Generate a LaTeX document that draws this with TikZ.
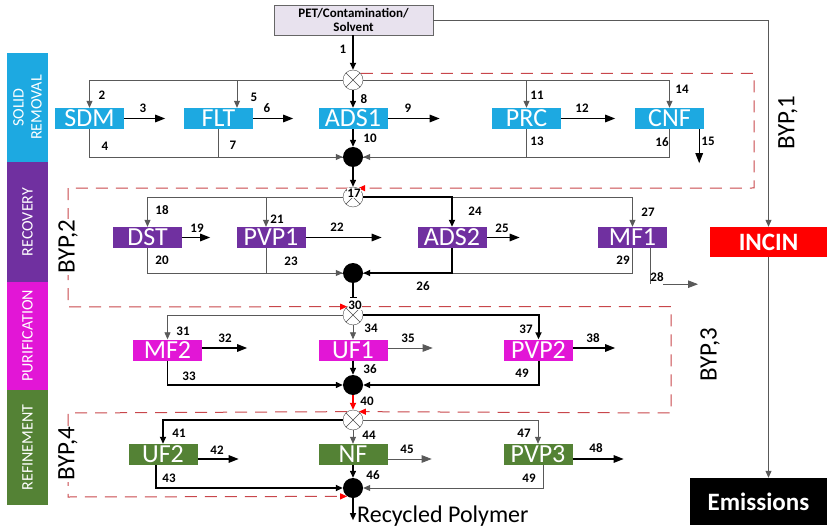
\documentclass[tikz,border=0pt]{standalone}
\usepackage{fontspec}
\setmainfont{Carlito}
\usetikzlibrary{arrows.meta}

\definecolor{solidc}{RGB}{29,169,225}
\definecolor{recc}{RGB}{112,48,160}
\definecolor{purc}{RGB}{226,22,214}
\definecolor{refc}{RGB}{84,130,53}
\definecolor{bypc}{RGB}{200,70,75}
\definecolor{feedc}{RGB}{232,226,238}

\newcommand{\fsz}[2]{\fontsize{#1}{#2}\selectfont}

\begin{document}
\begin{tikzpicture}[
      x=1pt, y=-1pt,
      lane/.style={rotate=90, minimum height=41pt, inner sep=0pt, text=white, align=center, font=\fsz{16}{18}},
      unit/.style={minimum width=69pt, minimum height=21pt, inner sep=0pt, text=white, font=\fsz{26}{26}},
      mixer/.style={circle, draw=black!70, fill=white, minimum size=20pt, inner sep=0pt,
         path picture={\draw[black!70] (path picture bounding box.north west) -- (path picture bounding box.south east)
                                       (path picture bounding box.north east) -- (path picture bounding box.south west);}},
      junction/.style={circle, fill=black, minimum size=20pt, inner sep=0pt},
      num/.style={font=\bfseries\fsz{13}{13}, inner sep=0pt},
      byplabel/.style={rotate=90, font=\fsz{25}{25}, inner sep=1pt},
      feed/.style={line width=0.8pt, draw=black!65},
      main/.style={line width=1.3pt, draw=black},
      heavy/.style={line width=2pt, draw=black},
      tip/.style={-{Triangle[length=7pt, width=6pt]}},
      bigtip/.style={-{Triangle[length=10pt, width=7.5pt]}},
      bypass/.style={line width=1pt, draw=bypc, dash pattern=on 12pt off 8pt,
                     -{Triangle[length=7pt, width=6pt, color=red]}}
   ]
   \useasboundingbox (0,0) rectangle (829,529);

   % Stage lanes
   \node[lane, fill=solidc, minimum width=109pt] (lsr) at (27.5,107.5) {SOLID\\REMOVAL};
   \node[lane, fill=recc, minimum width=120pt] (lrec) at (27.5,222) {RECOVERY};
   \node[lane, fill=purc, minimum width=108pt] (lpur) at (27.5,336) {PURIFICATION};
   \node[lane, fill=refc, minimum width=115pt] (lref) at (27.5,447.5) {REFINEMENT};

   % Feed, incineration and emissions
   \node[draw=black!60, fill=feedc, minimum width=159pt, minimum height=30pt, inner sep=0pt,
         align=center, font=\bfseries\fsz{13}{14}] (pet) at (353.5,20) {PET/Contamination/\\Solvent};
   \node[fill=red, text=white, minimum width=117pt, minimum height=30pt, inner sep=0pt,
         font=\bfseries\fsz{25}{25}] (incin) at (768.5,242) {INCIN};
   \node[fill=black, text=white, minimum width=137pt, minimum height=47pt, inner sep=0pt,
         font=\bfseries\fsz{25}{25}] (emis) at (758.5,501.5) {Emissions};

   % Mixers and junctions
   \node[mixer] (m1) at (353,80) {};
   \node[mixer] (m2) at (353,197) {};
   \node[mixer] (m3) at (353,315) {};
   \node[mixer] (m4) at (353,420) {};
   \node[junction] (j1) at (353,157) {};
   \node[junction] (j2) at (353,273) {};
   \node[junction] (j3) at (353,385) {};
   \node[junction] (j4) at (353,488) {};

   % Units
   \node[unit, fill=solidc] (sdm) at (89.5,118.5) {SDM};
   \node[unit, fill=solidc] (flt) at (218.5,118.5) {FLT};
   \node[unit, fill=solidc] (ads1) at (353,118.5) {ADS1};
   \node[unit, fill=solidc] (prc) at (526.5,118.5) {PRC};
   \node[unit, fill=solidc] (cnf) at (669.5,118.5) {CNF};
   \node[unit, fill=recc] (dst) at (147.5,237.5) {DST};
   \node[unit, fill=recc] (pvp1) at (271,237.5) {PVP1};
   \node[unit, fill=recc] (ads2) at (452,237.5) {ADS2};
   \node[unit, fill=recc] (mf1) at (632.5,237.5) {MF1};
   \node[unit, fill=purc] (mf2) at (167.5,350) {MF2};
   \node[unit, fill=purc] (uf1) at (353,350) {UF1};
   \node[unit, fill=purc] (pvp2) at (538.5,350) {PVP2};
   \node[unit, fill=refc] (uf2) at (163,454.5) {UF2};
   \node[unit, fill=refc] (nf) at (353,454.5) {NF};
   \node[unit, fill=refc] (pvp3) at (538,454.5) {PVP3};

   % Corners of the bypasses
   \coordinate (b1) at (754,188);
   \coordinate (b2a) at (68,188);
   \coordinate (b2b) at (68,307);
   \coordinate (b3) at (671,413);
   \coordinate (b4a) at (68,413);
   \coordinate (b4b) at (68,497);

   % Feed lines
   \draw[heavy, tip] (pet.south -| m1) -- (m1.north);
   \draw[feed, tip] (pet.east) -| (incin.north);
   \draw[feed, tip] (incin.south) -- (incin.south |- emis.north);

   % Solid removal
   \draw[feed, tip] (m1.west) -| (sdm.north);
   \draw[feed, tip] (m1.west) -| ([xshift=18.5pt]flt.north);
   \draw[main, tip] (m1.south) -- (ads1.north);
   \draw[feed, tip] (m1.east) -| (prc.north);
   \draw[feed, tip] (m1.east) -| (cnf.north);
   \draw[main, bigtip] (sdm.east) -- ++(41,0);
   \draw[main, bigtip] (flt.east) -- ++(40,0);
   \draw[main, bigtip] (ads1.east) -- ++(52,0);
   \draw[main, bigtip] (prc.east) -- ++(54,0);
   \draw[main, bigtip] ([xshift=-5pt]cnf.south east) -- ++(0,34);
   \draw[feed, tip] (sdm.south) |- (j1.west);
   \draw[feed] (flt.south) |- (j1.west);
   \draw[main, tip] (ads1.south) -- (j1.north);
   \draw[feed] (prc.south) |- (j1.east);
   \draw[feed, tip] (cnf.south) |- (j1.east);
   \draw[main, tip] (j1.south) -- (m2.north);

   % Recovery
   \draw[feed, tip] (m2.west) -| (dst.north);
   \draw[feed, tip] (m2.west) -| ([xshift=-5pt]pvp1.north);
   \draw[feed, tip] (m2.east) -| (mf1.north);
   \draw[heavy, tip] (m2.east) -| (ads2.north);
   \draw[main, bigtip] (dst.east) -- ++(28,0);
   \draw[main, bigtip] (pvp1.east) -- ++(76,0);
   \draw[main, bigtip] (ads2.east) -- ++(33,0);
   \draw[feed] ([xshift=17.5pt]mf1.south) -- ++(0,36) coordinate (c28);
   \draw[feed, bigtip] ([xshift=13pt]c28) -- ++(35,0);
   \draw[feed, tip] (dst.south) |- (j2.west);
   \draw[feed] ([xshift=-5pt]pvp1.south) |- (j2.west);
   \draw[feed] (mf1.south) |- (j2.east);
   \draw[heavy, tip] (ads2.south) |- (j2.east);
   \draw[main, -{Bar[width=7pt]}] (j2.south) -- ([yshift=7pt]m3.north);

   % Purification
   \draw[feed, tip] (m3.west) -| (mf2.north);
   \draw[feed, tip] (m3.south) -- (uf1.north);
   \draw[heavy, tip] (m3.east) -| (pvp2.north);
   \draw[main, bigtip] ([yshift=2pt]mf2.east) -- ++(45,0);
   \draw[feed, bigtip] ([yshift=2pt]uf1.east) -- ++(45,0);
   \draw[main, bigtip] ([yshift=2pt]pvp2.east) -- ++(42,0);
   \draw[main, tip] (mf2.south) |- (j3.west);
   \draw[main, tip] (uf1.south) -- (j3.north);
   \draw[heavy, tip] (pvp2.south) |- (j3.east);
   \draw[heavy, draw=red, tip] (j3.south) -- (m4.north);

   % Refinement
   \draw[heavy, tip] (m4.west) -| (uf2.north);
   \draw[feed, tip] (m4.south) -- (nf.north);
   \draw[feed, tip] (m4.east) -| (pvp3.north);
   \draw[main, bigtip] ([yshift=-4.5pt]uf2.east) -- ++(41,0);
   \draw[feed, bigtip] ([yshift=-4.5pt]nf.east) -- ++(44,0);
   \draw[main, bigtip] ([yshift=-4.5pt]pvp3.east) -- ++(51,0);
   \draw[heavy, tip] ([xshift=-7pt]uf2.south) |- (j4.west);
   \draw[main, tip] (nf.south) -- (j4.north);
   \draw[feed, tip] ([xshift=5pt]pvp3.south) |- (j4.east);
   \draw[main, tip] (j4.south) -- ++(0,22) coordinate (prodend);
   \node[anchor=base west, inner sep=0pt, font=\fsz{24}{24}] (prod) at (357,522) {Recycled Polymer};

   % Bypasses
   \draw[bypass] (m1.40) -| (b1) -- (m2.60);
   \draw[bypass] (m2.120) -- (b2a) -- (b2b) -- (m3.125);
   \draw[bypass] (m3.55) -| (b3) -- (m4.55);
   \draw[bypass] (m4.125) -- (b4a) -- (b4b) -- (j4.235);
   \node[byplabel] (byp1) at (788,123) {BYP,1};
   \node[byplabel, fill=white] (byp2) at (68,247) {BYP,2};
   \node[byplabel] (byp3) at (710,355) {BYP,3};
   \node[byplabel, fill=white] (byp4) at (68,454) {BYP,4};

   % Stream numbers
   \node[num] (n1) at (343,49) {1};
   \node[num] (n2) at (102,95) {2};
   \node[num] (n3) at (143,108) {3};
   \node[num] (n4) at (105,146) {4};
   \node[num] (n5) at (254,97) {5};
   \node[num] (n6) at (267,108) {6};
   \node[num] (n7) at (233,145) {7};
   \node[num] (n8) at (364,99) {8};
   \node[num] (n9) at (408,108) {9};
   \node[num] (n10) at (370,138) {10};
   \node[num] (n11) at (537,95) {11};
   \node[num] (n12) at (582,108) {12};
   \node[num] (n13) at (537,141) {13};
   \node[num] (n14) at (682,89) {14};
   \node[num] (n15) at (708,141) {15};
   \node[num] (n16) at (662,142) {16};
   \node[num, fill=white, inner sep=0.3pt] (n17) at (354,193) {17};
   \node[num] (n18) at (162,210) {18};
   \node[num] (n19) at (197,228) {19};
   \node[num] (n20) at (162,260) {20};
   \node[num] (n21) at (277,219) {21};
   \node[num] (n22) at (337,227) {22};
   \node[num] (n23) at (291,261) {23};
   \node[num] (n24) at (475,211) {24};
   \node[num] (n25) at (502,228) {25};
   \node[num] (n26) at (423,286) {26};
   \node[num] (n27) at (648,212) {27};
   \node[num] (n28) at (657,277) {28};
   \node[num] (n29) at (623,260) {29};
   \node[num, fill=white, inner sep=0.3pt] (n30) at (355,305) {30};
   \node[num] (n31) at (183,331) {31};
   \node[num] (n32) at (225,338) {32};
   \node[num] (n33) at (189,376) {33};
   \node[num] (n34) at (371,328) {34};
   \node[num] (n35) at (408,338) {35};
   \node[num] (n36) at (370,369) {36};
   \node[num] (n37) at (526,329) {37};
   \node[num] (n38) at (593,338) {38};
   \node[num] (n49a) at (522,373) {49};
   \node[num] (n40) at (367,401) {40};
   \node[num] (n41) at (179,433) {41};
   \node[num] (n42) at (217,450) {42};
   \node[num] (n43) at (169,478) {43};
   \node[num] (n44) at (369,435) {44};
   \node[num] (n45) at (407,449) {45};
   \node[num] (n46) at (373,475) {46};
   \node[num] (n47) at (524,433) {47};
   \node[num] (n48) at (596,448) {48};
   \node[num] (n49b) at (529,478) {49};
\end{tikzpicture}
\end{document}
